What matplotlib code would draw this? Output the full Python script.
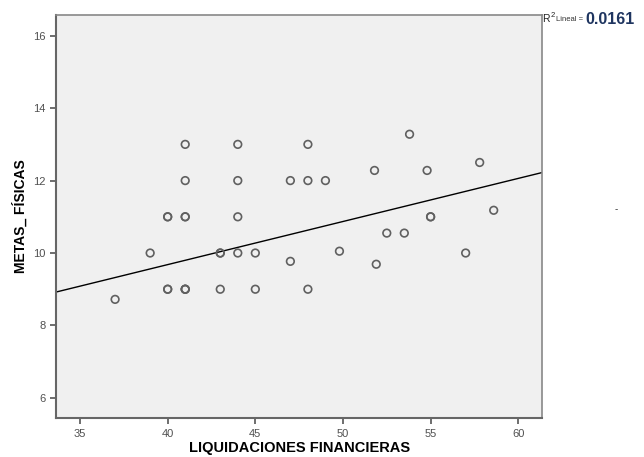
import numpy as np
import matplotlib
matplotlib.use("Agg")
import matplotlib.pyplot as plt

# puntos (los repetidos se ven más oscuros)
liquidaciones = [37, 39, 40, 40, 40, 40, 41, 41, 41, 41, 41, 41, 41, 43, 43, 43,
                 44, 44, 44, 44, 45, 45, 47, 47, 48, 48, 48, 49, 49.8, 51.8,
                 51.9, 52.5, 53.5, 53.8, 54.8, 55, 55, 57, 57.8, 58.6]
metas = [8.72, 10, 11, 11, 9, 9, 13, 12, 11, 11, 9, 9, 9, 10, 10, 9,
         13, 12, 11, 10, 10, 9, 12, 9.77, 13, 12, 9, 12, 10.05, 12.28,
         9.69, 10.55, 10.55, 13.28, 12.28, 11, 11, 10, 12.5, 11.18]

# recta de ajuste lineal
intercepto = 4.92
pendiente = 0.119
r2 = 0.0161

xticks = [35, 40, 45, 50, 55, 60]
yticks = [6, 8, 10, 12, 14, 16]

plt.rcParams["font.family"] = ["Liberation Sans", "DejaVu Sans"]

fig = plt.figure(figsize=(6.44, 4.57), dpi=100)
ax = fig.add_axes([0.087, 0.085, 0.755, 0.882])
ax.set_facecolor("#f0f0f0")

ax.scatter(liquidaciones, metas, s=30, facecolors="none", edgecolors="#606060",
           linewidths=1.2, zorder=3)

xlim = (33.63, 61.37)
xs = np.array(xlim)
ax.plot(xs, intercepto + pendiente * xs, color="black", linewidth=1.0, zorder=2)

ax.set_xlim(*xlim)
ax.set_ylim(5.44, 16.57)
ax.set_xticks(xticks)
ax.set_yticks(yticks)
ax.tick_params(colors="#555555", labelsize=8, length=4, width=1.2, direction="out")
ax.tick_params(axis="both", labelcolor="#505050")

for side in ["top", "right"]:
    ax.spines[side].set_color("#888888")
    ax.spines[side].set_linewidth(1.2)
for side in ["left", "bottom"]:
    ax.spines[side].set_color("#666666")
    ax.spines[side].set_linewidth(1.5)

ax.set_xlabel("LIQUIDACIONES FINANCIERAS", fontsize=10.5, fontweight="bold", va="center")
ax.set_ylabel("METAS_ FÍSICAS", fontsize=10, fontweight="bold", va="center")
ax.xaxis.set_label_coords(0.5, -0.074)
ax.yaxis.set_label_coords(-0.074, 0.5)

fig.text(0.842, 0.958, "R", fontsize=7.5, color="#222222", va="center")
fig.text(0.8545, 0.967, "2", fontsize=5.5, color="#222222", va="center")
fig.text(0.864, 0.957, "Lineal =", fontsize=5.5, color="#333333", va="center")
fig.text(0.909, 0.958, f"{r2:.4f}", fontsize=11.5, fontweight="bold", color="#1f3560", va="center")
fig.text(0.955, 0.535, "-", fontsize=7, color="#333333")

fig.savefig("out.png", dpi=100)
